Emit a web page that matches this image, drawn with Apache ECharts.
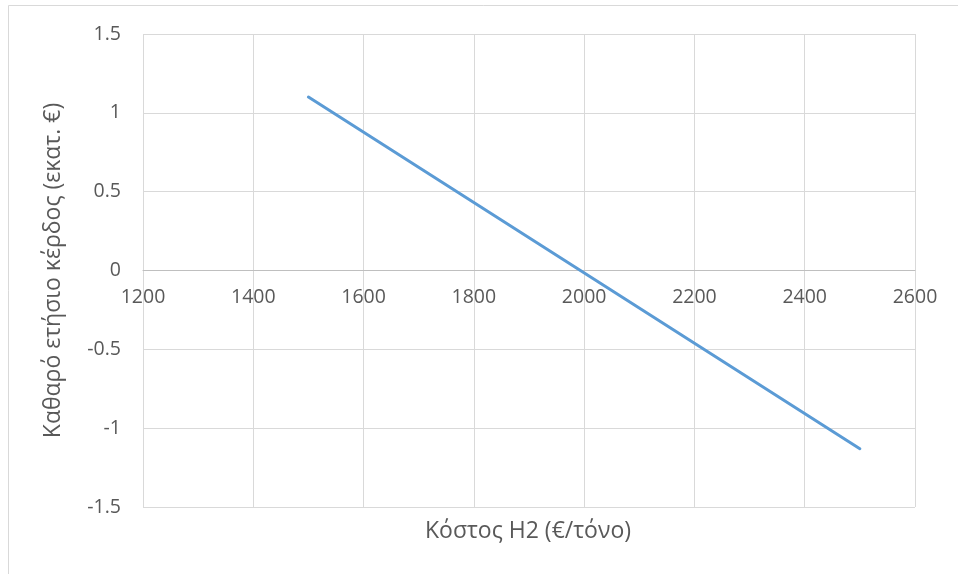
<!DOCTYPE html>
<html>
<head>
<meta charset="utf-8">
<script src="https://cdn.jsdelivr.net/npm/echarts@6/dist/echarts.min.js"></script>
<style>
  html, body { margin: 0; padding: 0; background: #fff; }
  #chart { width: 958px; height: 574px; }
</style>
</head>
<body>
<div id="chart"></div>
<script>
// Hydrogen cost (€/tonne) vs. net annual profit (million €)
const costH2 = [1500, 2500];
const netProfit = [1.1, -1.13];
const xTitle = 'Κόστος H2 (€/τόνο)';
const yTitle = 'Καθαρό ετήσιο κέρδος (εκατ. €)';

const FONT = '"Open Sans", "Liberation Sans", sans-serif';
const TEXT = '#595959';
const GRID = '#d9d9d9';
const TICK_SIZE = 19.5;
const TITLE_SIZE = 23;

// plot area
const TOP = 34, BOTTOM = 67, H = 574 - TOP - BOTTOM;
const Y_MIN = -1.5, Y_MAX = 1.5;
// lift the horizontal axis (line + labels) up to y = 0
const zeroOffset = -H * (0 - Y_MIN) / (Y_MAX - Y_MIN);

const chart = echarts.init(document.getElementById('chart'), null, { renderer: 'canvas' });

chart.setOption({
  animation: false,
  backgroundColor: '#ffffff',
  textStyle: { fontFamily: FONT },
  graphic: [
    {
      // chart frame (top and left edges fall inside the canvas)
      type: 'rect',
      shape: { x: 8.5, y: 5.5, width: 960, height: 600 },
      style: { fill: 'none', stroke: '#d9d9d9', lineWidth: 1 },
      silent: true
    },
    {
      // horizontal axis title, below the plot area
      type: 'text',
      x: 528,
      y: 531,
      style: {
        text: xTitle,
        fill: TEXT,
        font: TITLE_SIZE + 'px ' + FONT,
        textAlign: 'center',
        textVerticalAlign: 'middle'
      },
      silent: true
    }
  ],
  grid: { left: 143, right: 43, top: TOP, bottom: BOTTOM, containLabel: false },
  xAxis: {
    type: 'value',
    min: 1200, max: 2600, interval: 200,
    position: 'bottom',
    offset: zeroOffset,
    axisLine: { show: true, onZero: false, lineStyle: { color: '#bfbfbf', width: 1 } },
    axisTick: { show: false },
    axisLabel: {
      color: TEXT, fontSize: TICK_SIZE, fontFamily: FONT, margin: 17,
      formatter: v => String(v)
    },
    splitLine: { show: true, lineStyle: { color: GRID, width: 1 } }
  },
  yAxis: {
    type: 'value',
    min: Y_MIN, max: Y_MAX, interval: 0.5,
    name: yTitle,
    nameLocation: 'middle',
    nameGap: 78,
    nameRotate: 90,
    nameTextStyle: { color: TEXT, fontSize: TITLE_SIZE, fontFamily: FONT },
    axisLine: { show: false },
    axisTick: { show: false },
    axisLabel: { color: TEXT, fontSize: TICK_SIZE, fontFamily: FONT, margin: 22 },
    splitLine: { show: true, lineStyle: { color: GRID, width: 1 } }
  },
  series: [{
    type: 'line',
    data: costH2.map((x, i) => [x, netProfit[i]]),
    showSymbol: false,
    symbol: 'none',
    lineStyle: { color: '#5b9bd5', width: 3, cap: 'round' },
    itemStyle: { color: '#5b9bd5' }
  }]
});
</script>
</body>
</html>
